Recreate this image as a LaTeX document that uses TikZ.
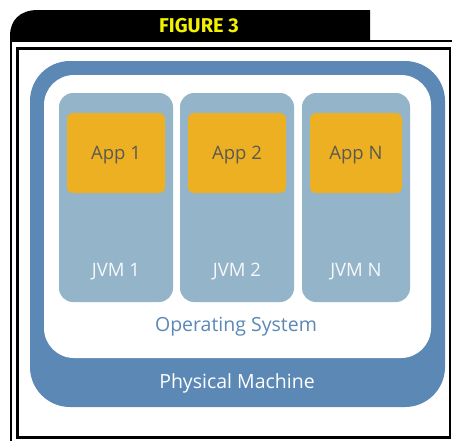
\documentclass[tikz,border=0pt]{standalone}
\usepackage{fontspec}
\setmainfont{Open Sans}
\newfontfamily\headfont{Fira Sans}
\definecolor{machineblue}{HTML}{5B88B5}
\definecolor{jvmblue}{HTML}{94B4C9}
\definecolor{apporange}{HTML}{EDB022}
\definecolor{apptext}{HTML}{5A5A50}
\definecolor{headyellow}{HTML}{F2F200}
\begin{document}
\begin{tikzpicture}[x=1pt,y=-1pt,
  jvmbox/.style={fill=jvmblue, rounded corners=14pt},
  appbox/.style={fill=apporange, rounded corners=6pt},
  apptxt/.style={text=apptext, font=\fontsize{18.5}{20}\selectfont},
  jvmtxt/.style={text=white!92!jvmblue, font=\fontsize{18.5}{20}\selectfont},
  layertxt/.style={font=\fontsize{19.5}{22}\selectfont},
]
\useasboundingbox (0,0) rectangle (452,440);
\fill[white] (0,0) rectangle (452,440);

% title tab, rounded at its top left only
\fill[black] (10,40) -- (10,36) .. controls (10,20) and (20,10) .. (38,10)
  -- (370,10) -- (370,40) -- cycle;
\node[text=headyellow, font=\headfont\bfseries\fontsize{20}{22}\selectfont] (title) at (199,26) {FIGURE 3};

% double frame
\draw[line width=2pt] (11,41) rectangle (470,470);
\draw[line width=2.5pt] (17.5,48.5) rectangle (450,437.5);

% physical machine and operating system layers
\fill[machineblue, rounded corners=40pt] (30,61) rectangle (445,407);
\fill[white, rounded corners=30pt] (44,75) rectangle (431,358);
\node[layertxt, text=white] (pm) at (237,383) {Physical Machine};
\node[layertxt, text=machineblue] (os) at (236,327) {Operating System};

% JVMs with their applications
\foreach \i/\xa/\xb/\lab in {1/59/173/1, 2/180/294/2, 3/302/410/N}{
  \fill[jvmbox] (\xa,93) rectangle (\xb,302);
  \fill[appbox] (\xa+8,113) rectangle (\xb-8,193);
  \node[apptxt] (app\i) at ({(\xa+\xb)/2},155) {App \lab};
  \node[jvmtxt] (jvm\i) at ({(\xa+\xb)/2},272) {JVM \lab};
}
\end{tikzpicture}
\end{document}
